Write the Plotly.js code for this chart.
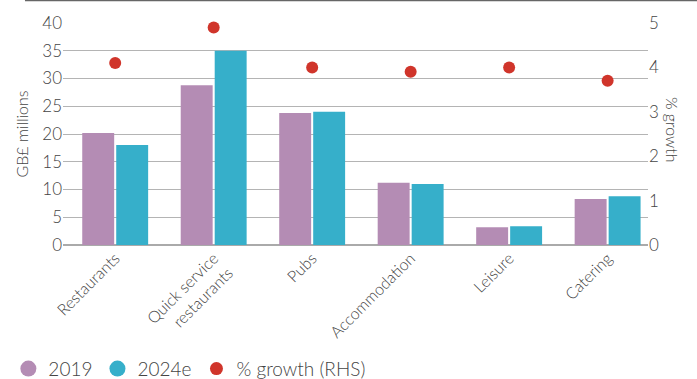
<!DOCTYPE html>
<html>
<head>
<meta charset="utf-8">
<script src="https://cdn.plot.ly/plotly-3.0.1.min.js"></script>
<style>html,body{margin:0;padding:0;background:#fff;}#chart{width:697px;height:379px;}</style>
</head>
<body>
<div id="chart"></div>
<script>
const categories = ['Restaurants', 'Quick service<br>restaurants', 'Pubs', 'Accommodation', 'Leisure', 'Catering'];
const values2019 = [20.2, 28.8, 23.8, 11.2, 3.2, 8.3];
const values2024e = [18.0, 35.0, 24.0, 11.0, 3.4, 8.8];
const growthPct = [4.1, 4.9, 4.0, 3.9, 4.0, 3.7];
const seriesNames = ['2019', '2024e', '% growth (RHS)'];
const leftTicks = [0, 5, 10, 15, 20, 25, 30, 35, 40];
const rightTicks = [0, 1, 2, 3, 4, 5];

const COL_2019 = '#b48cb4';
const COL_2024 = '#36afca';
const COL_GROWTH = '#d0352b';
const FONT = 'Lato, "Open Sans", sans-serif';
const TXT = '#444444';

const traces = [
  {type: 'bar', x: categories, y: values2019, name: seriesNames[0], marker: {color: COL_2019}, showlegend: false, hoverinfo: 'y'},
  {type: 'bar', x: categories, y: values2024e, name: seriesNames[1], marker: {color: COL_2024}, showlegend: false, hoverinfo: 'y'},
  {type: 'scatter', mode: 'markers', x: categories, y: growthPct, yaxis: 'y2', name: seriesNames[2], cliponaxis: false,
   marker: {color: COL_GROWTH, size: 12}, showlegend: false, hoverinfo: 'y'},
  // legend-only entries with circular symbols
  {type: 'scatter', mode: 'markers', x: [null], y: [null], name: seriesNames[0], marker: {color: COL_2019, size: 16, symbol: 'circle'}},
  {type: 'scatter', mode: 'markers', x: [null], y: [null], name: seriesNames[1], marker: {color: COL_2024, size: 16, symbol: 'circle'}},
  {type: 'scatter', mode: 'markers', x: [null], y: [null], name: seriesNames[2], yaxis: 'y2', marker: {color: COL_GROWTH, size: 13, symbol: 'circle'}}
];

const layout = {
  width: 697, height: 379,
  margin: {l: 63, r: 49, t: 23, b: 134, pad: 0},
  paper_bgcolor: '#ffffff', plot_bgcolor: '#ffffff',
  font: {family: FONT, size: 16, color: TXT, weight: 300},
  barmode: 'group', bargap: 0.31, bargroupgap: 0.06,
  showlegend: true,
  legend: {orientation: 'h', x: 0.012, xref: 'container', xanchor: 'left', y: 0.027, yref: 'container', yanchor: 'middle',
           font: {size: 19, color: TXT, family: FONT}, itemsizing: 'trace', bgcolor: 'rgba(0,0,0,0)', traceorder: 'normal'},
  xaxis: {type: 'category', range: [-0.53, 5.41], tickangle: -45, showgrid: false, zeroline: false,
          showline: false, ticks: '', tickfont: {size: 16, color: TXT}, automargin: false, fixedrange: true},
  yaxis: {range: [0, 40], tickvals: leftTicks, showgrid: true, gridcolor: '#b4b4b4', gridwidth: 1,
          zeroline: true, zerolinecolor: '#aaaaaa', zerolinewidth: 2, ticks: '', showline: false,
          tickfont: {size: 17, color: TXT}, automargin: false,
          title: {text: 'GB£ millions', font: {size: 16, color: TXT}, standoff: 9}},
  yaxis2: {range: [0, 5], tickvals: rightTicks, overlaying: 'y', side: 'right', showgrid: false, zeroline: false,
           ticks: '', showline: false, tickfont: {size: 17, color: TXT}, automargin: false},
  annotations: [
    {text: '% growth', xref: 'paper', yref: 'paper', x: 1.0427, y: 0.518, xanchor: 'center', yanchor: 'middle',
     textangle: 90, showarrow: false, font: {size: 16, color: TXT, family: FONT}}
  ],
  shapes: [
    {type: 'line', xref: 'paper', yref: 'paper', x0: -0.065, x1: 1.1, y0: 1.1014, y1: 1.1014,
     line: {color: '#666666', width: 1.5}}
  ]
};

Plotly.newPlot('chart', traces, layout, {displayModeBar: false, staticPlot: true});
</script>
</body>
</html>
